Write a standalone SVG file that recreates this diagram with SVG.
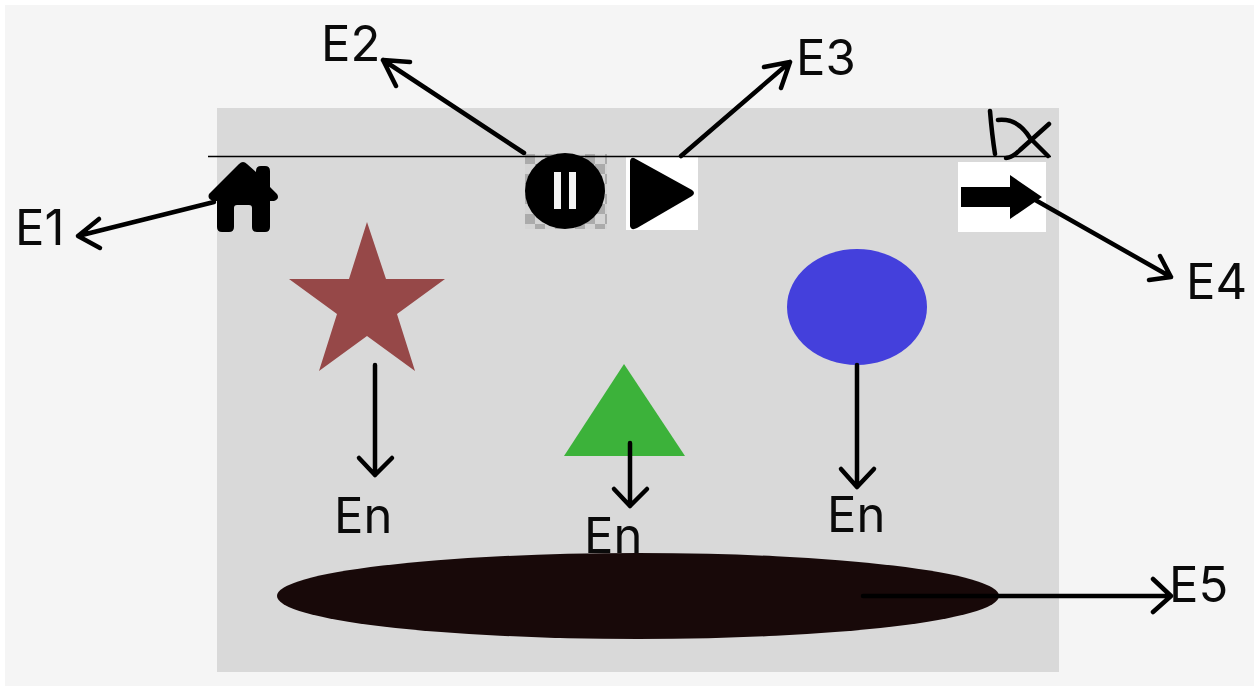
<svg xmlns="http://www.w3.org/2000/svg" width="1254" height="687" viewBox="0 0 1254 687">
<defs><style>
text{font-family:Inter,Roboto,"Liberation Sans",sans-serif;font-size:49px;fill:#0a0a0a}
.c{fill:none;stroke:#000;stroke-width:4.500;stroke-linecap:round;stroke-linejoin:round}
</style>
<pattern id="chk" width="20" height="20" patternUnits="userSpaceOnUse" x="525" y="154"><rect width="20" height="20" fill="#d4d4d4"/><rect width="10" height="10" fill="#ababab"/><rect x="10" y="10" width="10" height="10" fill="#ababab"/></pattern>
</defs>
<rect id="page" x="0" y="0" width="1254" height="687" fill="#fff"/>
<rect id="outer" x="5" y="5" width="1249" height="681" fill="#f5f5f5"/>
<rect id="panel" x="217" y="108" width="842" height="564" fill="#d9d9d9"/>
<g id="star"><polygon points="367,222 386,279 445,279 397,314 415,371 367,336 319,371 337,314 289,279 349,279" fill="#964848"/></g>
<g id="triangle"><polygon points="624,364 685,456 564,456" fill="#3cb23a"/></g>
<g id="circle"><ellipse cx="857" cy="307" rx="70" ry="58" fill="#4440dc"/></g>
<g id="ellipse"><ellipse cx="638" cy="596" rx="361" ry="43" fill="#180909"/></g>
<g id="home"><path d="M243 162 Q245 162 247 164 L256 172 V171 Q256 166 261 166 H265 Q270 166 270 171 V187 L277 194 Q280 199 274 201 H270 V227 Q270 232 265 232 H257 Q252 232 252 227 V208 Q252 205 249 205 H237 Q234 205 234 208 V227 Q234 232 229 232 H222 Q217 232 217 227 V201 H213 Q207 199 209 194 L239 164 Q241 162 243 162 Z" fill="#000"/></g>
<g id="pause"><rect x="525" y="154" width="82" height="75" fill="url(#chk)"/><ellipse cx="565" cy="191" rx="40" ry="38" fill="#000"/><rect x="554" y="172" width="7" height="37" fill="#f4f4f4"/><rect x="569" y="172" width="7" height="37" fill="#f4f4f4"/></g>
<g id="play"><rect x="626" y="157" width="72" height="73" fill="#fff"/><path d="M634 158 L692 190 Q696 193 692 196 L637 228 Q631 231 630 226 V161 Q631 157 634 158 Z" fill="#000"/></g>
<g id="next"><rect x="958" y="162" width="88" height="70" fill="#fff"/><polygon points="961,187 1010,187 1010,175 1042,197 1010,219 1010,207 961,207" fill="#000"/></g>
<g id="connectors">
<line x1="208" y1="156.500" x2="1051" y2="156.500" stroke="#000" stroke-width="1.500"/>
<path class="c" d="M214 202 L78 236 M99 219 L78 236 L100 248"/>
<path class="c" d="M524 153 L383 60 M410 62 L383 60 L396 86"/>
<path class="c" d="M681 156 L790 62 M764 67 L790 62 L781 88"/>
<path class="c" d="M1030 197 L1171 277 M1149 280 L1171 277 L1160 256"/>
<path class="c" d="M375 365 V475 M359 458 L375 475 L392 458"/>
<path class="c" d="M630 443 V506 M614 489 L630 506 L647 489"/>
<path class="c" d="M857 365 V487 M841 469 L857 487 L874 469"/>
<path class="c" d="M863 596 H1171 M1153 579 L1171 596 L1153 612"/>
<path class="c" d="M990 111 Q992 135 995 154 M998 120 Q1018 118 1030 138 L1048 156 M1049 124 L1020 150 Q1012 158 1006 158"/>
</g>
<g id="labels">
<text x="321" y="61">E2</text>
<text x="15" y="245">E1</text>
<text x="796" y="75">E3</text>
<text x="1186" y="299">E4</text>
<text x="1169" y="602">E5</text>
<text x="334" y="533">En</text>
<text x="584" y="553">En</text>
<text x="827" y="532">En</text>
</g>
</svg>
